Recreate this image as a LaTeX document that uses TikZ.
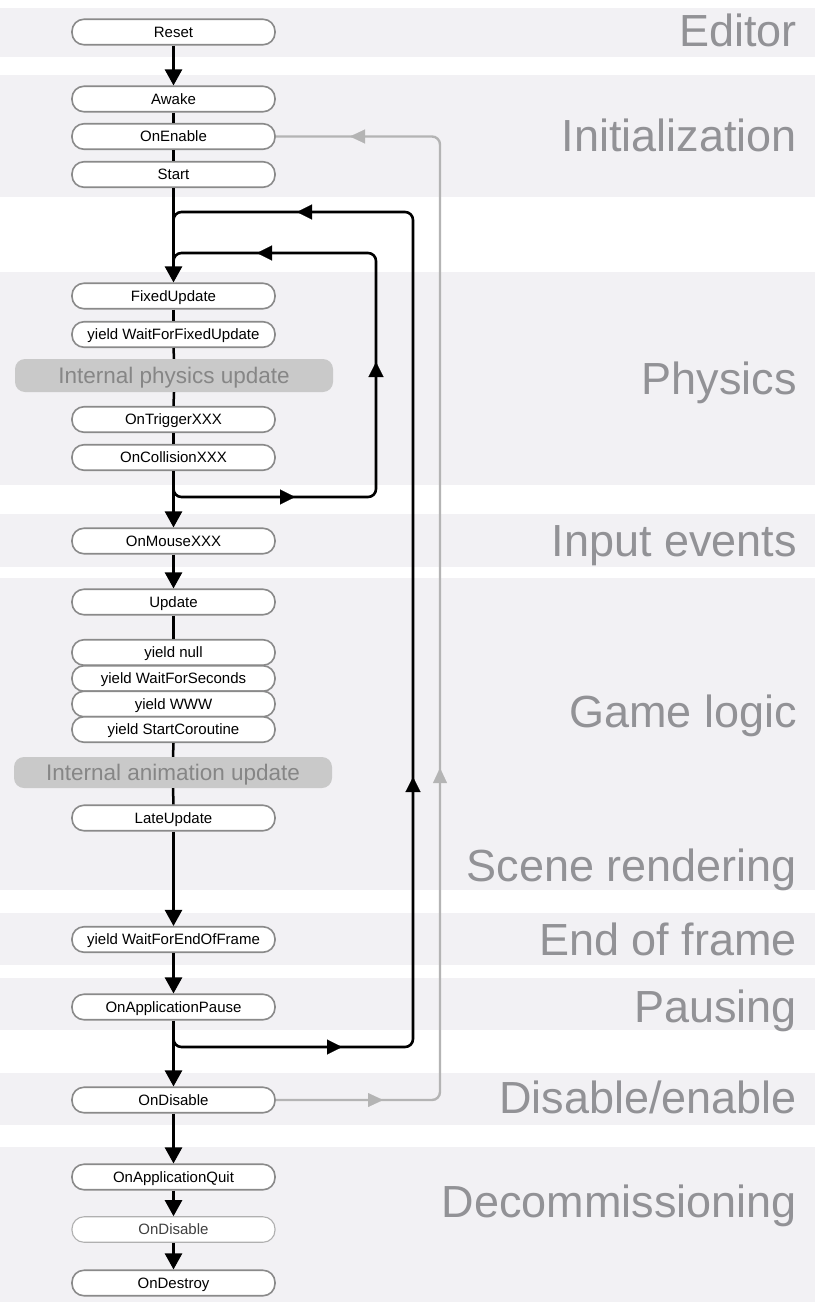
\documentclass[tikz,border=0pt]{standalone}
\usepackage{fontspec}
\setmainfont{Liberation Sans}
\usetikzlibrary{arrows.meta}
\definecolor{band}{HTML}{F2F1F4}
\definecolor{lbl}{HTML}{929296}
\definecolor{nodeborder}{HTML}{8A8A8A}
\definecolor{lightborder}{HTML}{B0B0B0}
\definecolor{intfill}{HTML}{C9C9C9}
\definecolor{inttext}{HTML}{868686}
\definecolor{gline}{HTML}{B4B4B4}
\begin{document}
\begin{tikzpicture}[x=1pt,y=-1pt,
  evt/.style={draw=nodeborder, line width=1.6pt, fill=white, rounded corners=12pt,
    minimum width=203pt, minimum height=25.5pt, inner sep=0pt,
    text height=10.8pt, text depth=0pt,
    font=\fontsize{15}{18}\selectfont, text=black},
  evtlight/.style={evt, draw=lightborder, line width=1.1pt, text=black!75},
  intbox/.style={fill=intfill, rounded corners=10pt, minimum width=318pt,
    inner sep=0pt, text height=16.2pt, text depth=0pt,
    font=\fontsize{22.5}{26}\selectfont, text=inttext},
  lbl/.style={anchor=base east, inner sep=0pt, text=lbl, font=\fontsize{45}{54}\selectfont},
  mainline/.style={line width=2.5pt, black},
  mainarrow/.style={mainline, -{Triangle[length=16pt,width=17pt]}},
  loopline/.style={line width=2.6pt, black, rounded corners=8pt},
  looptip/.style={line width=0.1pt, black, -{Triangle[length=15pt,width=15pt]}},
  grayline/.style={line width=2.4pt, gline, rounded corners=8pt},
  graytip/.style={line width=0.1pt, gline, -{Triangle[length=15pt,width=14pt]}}
]
\useasboundingbox (0,0) rectangle (815,1308);
\fill[white] (0,0) rectangle (815,1308);
% bands
\fill[band] (0,8) rectangle (815,57);
\fill[band] (0,75) rectangle (815,197);
\fill[band] (0,272) rectangle (815,485);
\fill[band] (0,514) rectangle (815,567);
\fill[band] (0,578) rectangle (815,890);
\fill[band] (0,913) rectangle (815,965);
\fill[band] (0,978) rectangle (815,1030);
\fill[band] (0,1073) rectangle (815,1125);
\fill[band] (0,1147) rectangle (815,1302);
% band labels
\node[lbl] (lEditor) at (797,47) {Editor};
\node[lbl] (lInit) at (797,152) {Initialization};
\node[lbl] (lPhys) at (797,394) {Physics};
\node[lbl] (lInput) at (797,556) {Input events};
\node[lbl] (lGame) at (797,727) {Game logic};
\node[lbl] (lScene) at (797,881) {Scene rendering};
\node[lbl] (lEnd) at (797,955) {End of frame};
\node[lbl] (lPause) at (797,1022) {Pausing};
\node[lbl] (lDis) at (797,1113) {Disable/enable};
\node[lbl] (lDecom) at (797,1217) {Decommissioning};
% loops (drawn before nodes)
\coordinate (plA) at (173.5,480);
\coordinate (plB) at (173.5,497);
\coordinate (plC) at (376,497);
\coordinate (plD) at (376,253);
\coordinate (plE) at (173.5,253);
\coordinate (plF) at (173.5,268);
\draw[loopline] (plA) -- (plB) -- (plC) -- (plD) -- (plE) -- (plF);
\coordinate (olA) at (173.5,1035);
\coordinate (olB) at (173.5,1047);
\coordinate (olC) at (413,1047);
\coordinate (olD) at (413,212);
\coordinate (olE) at (173.5,212);
\coordinate (olF) at (173.5,228);
\draw[loopline] (olA) -- (olB) -- (olC) -- (olD) -- (olE) -- (olF);
% nodes
\node[evt] (reset) at (173.5,32) {Reset};
\node[evt] (awake) at (173.5,99) {Awake};
\node[evt] (onenable) at (173.5,136.5) {OnEnable};
\node[evt] (start) at (173.5,174.5) {Start};
\node[evt] (fixed) at (173.5,296) {FixedUpdate};
\node[evt] (wffu) at (173.5,334.5) {yield WaitForFixedUpdate};
\node[intbox, minimum height=33pt] (ipu) at (174,375.5) {Internal physics update};
\node[evt] (trigger) at (173.5,419.5) {OnTriggerXXX};
\node[evt] (collision) at (173.5,457.5) {OnCollisionXXX};
\node[evt] (mouse) at (173.5,541) {OnMouseXXX};
\node[evt] (update) at (173.5,602) {Update};
\node[evt] (ynull) at (173.5,652.5) {yield null};
\node[evt] (ywfs) at (173.5,678.5) {yield WaitForSeconds};
\node[evt] (ywww) at (173.5,704) {yield WWW};
\node[evt] (ysc) at (173.5,729.5) {yield StartCoroutine};
\node[intbox, minimum height=31pt] (iau) at (173,772.5) {Internal animation update};
\node[evt] (late) at (173.5,818) {LateUpdate};
\node[evt] (wfeof) at (173.5,939.5) {yield WaitForEndOfFrame};
\node[evt] (pause) at (173.5,1007) {OnApplicationPause};
\node[evt] (disable) at (173.5,1100) {OnDisable};
\node[evt] (quit) at (173.5,1177) {OnApplicationQuit};
\node[evtlight] (disable2) at (173.5,1229.5) {OnDisable};
\node[evt] (destroy) at (173.5,1283) {OnDestroy};
% main flow
\draw[mainarrow] (reset.south) -- (awake.north);
\draw[mainline] (awake.south) -- (onenable.north);
\draw[mainline] (onenable.south) -- (start.north);
\draw[mainarrow] (start.south) -- (fixed.north);
\draw[mainline] (fixed.south) -- (wffu.north);
\draw[mainline] (wffu.south) -- (ipu.north);
\draw[mainline] (ipu.south) -- (trigger.north);
\draw[mainline] (trigger.south) -- (collision.north);
\draw[mainarrow] (collision.south) -- (mouse.north);
\draw[mainarrow] (mouse.south) -- (update.north);
\draw[mainline] (update.south) -- (ynull.north);
\draw[mainline] (ysc.south) -- (iau.north);
\draw[mainline] (iau.south) -- (late.north);
\draw[mainarrow] (late.south) -- (wfeof.north);
\draw[mainarrow] (wfeof.south) -- (pause.north);
\draw[mainarrow] (pause.south) -- (disable.north);
\draw[mainarrow] (disable.south) -- (quit.north);
\draw[mainarrow] (quit.south) -- (disable2.north);
\draw[mainarrow] (disable2.south) -- (destroy.north);
% loop arrowheads
\draw[looptip] (278,497) -- (295,497);
\draw[looptip] (376,380) -- (376,362);
\draw[looptip] (274,253) -- (257,253);
\draw[looptip] (325,1047) -- (342,1047);
\draw[looptip] (413,794) -- (413,777);
\draw[looptip] (314,212) -- (297,212);
% gray enable/disable loop
\coordinate (glA) at (440,1100);
\draw[grayline] (disable.east) -- (glA) |- (onenable.east);
\draw[graytip] (366,1100) -- (383,1100);
\draw[graytip] (440,785) -- (440,768);
\draw[graytip] (367,136.5) -- (350,136.5);
\end{tikzpicture}
\end{document}
